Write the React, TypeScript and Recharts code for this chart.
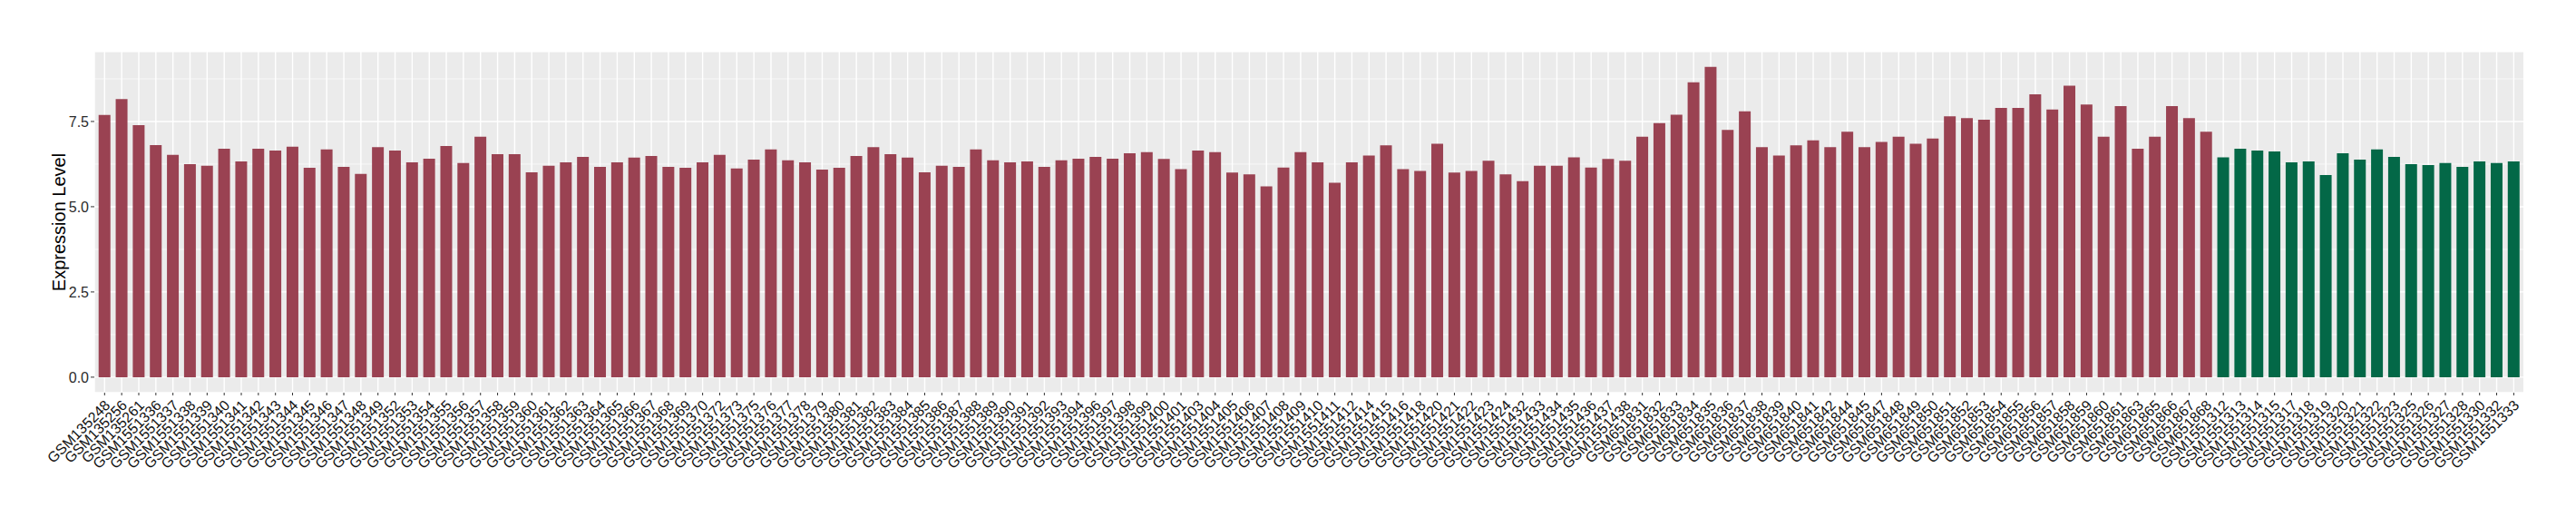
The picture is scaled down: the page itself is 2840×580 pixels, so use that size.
import React from 'react';
import { BarChart, Bar, XAxis, YAxis, CartesianGrid, Cell } from 'recharts';

const tumorSamples = [
  'GSM135248', 'GSM135256', 'GSM135261', 'GSM1551336', 'GSM1551337', 'GSM1551338', 'GSM1551339', 'GSM1551340',
  'GSM1551341', 'GSM1551342', 'GSM1551343', 'GSM1551344', 'GSM1551345', 'GSM1551346', 'GSM1551347', 'GSM1551348',
  'GSM1551349', 'GSM1551352', 'GSM1551353', 'GSM1551354', 'GSM1551355', 'GSM1551356', 'GSM1551357', 'GSM1551358',
  'GSM1551359', 'GSM1551360', 'GSM1551361', 'GSM1551362', 'GSM1551363', 'GSM1551364', 'GSM1551365', 'GSM1551366',
  'GSM1551367', 'GSM1551368', 'GSM1551369', 'GSM1551370', 'GSM1551372', 'GSM1551373', 'GSM1551375', 'GSM1551376',
  'GSM1551377', 'GSM1551378', 'GSM1551379', 'GSM1551380', 'GSM1551381', 'GSM1551382', 'GSM1551383', 'GSM1551384',
  'GSM1551385', 'GSM1551386', 'GSM1551387', 'GSM1551388', 'GSM1551389', 'GSM1551390', 'GSM1551391', 'GSM1551392',
  'GSM1551393', 'GSM1551394', 'GSM1551396', 'GSM1551397', 'GSM1551398', 'GSM1551399', 'GSM1551400', 'GSM1551401',
  'GSM1551403', 'GSM1551404', 'GSM1551405', 'GSM1551406', 'GSM1551407', 'GSM1551408', 'GSM1551409', 'GSM1551410',
  'GSM1551411', 'GSM1551412', 'GSM1551414', 'GSM1551415', 'GSM1551416', 'GSM1551418', 'GSM1551420', 'GSM1551421',
  'GSM1551422', 'GSM1551423', 'GSM1551424', 'GSM1551432', 'GSM1551433', 'GSM1551434', 'GSM1551435', 'GSM1551436',
  'GSM1551437', 'GSM1551438', 'GSM651831', 'GSM651832', 'GSM651833', 'GSM651834', 'GSM651835', 'GSM651836',
  'GSM651837', 'GSM651838', 'GSM651839', 'GSM651840', 'GSM651841', 'GSM651842', 'GSM651844', 'GSM651845',
  'GSM651847', 'GSM651848', 'GSM651849', 'GSM651850', 'GSM651851', 'GSM651852', 'GSM651853', 'GSM651854',
  'GSM651855', 'GSM651856', 'GSM651857', 'GSM651858', 'GSM651859', 'GSM651860', 'GSM651861', 'GSM651863',
  'GSM651865', 'GSM651866', 'GSM651867', 'GSM651868',
];

const tumorValues = [
  7.69, 8.16, 7.39, 6.81, 6.52, 6.25, 6.2, 6.7,
  6.33, 6.7, 6.65, 6.76, 6.14, 6.68, 6.17, 5.96,
  6.75, 6.65, 6.3, 6.41, 6.78, 6.28, 7.05, 6.54,
  6.54, 6.01, 6.2, 6.3, 6.46, 6.17, 6.3, 6.44,
  6.49, 6.17, 6.14, 6.3, 6.52, 6.12, 6.38, 6.68,
  6.36, 6.3, 6.09, 6.14, 6.49, 6.75, 6.54, 6.44,
  6.01, 6.2, 6.17, 6.68, 6.36, 6.3, 6.33, 6.17,
  6.36, 6.41, 6.46, 6.41, 6.57, 6.6, 6.4, 6.1,
  6.65, 6.6, 6.0, 5.95, 5.6, 6.15, 6.6, 6.3,
  5.7, 6.3, 6.5, 6.8, 6.1, 6.05, 6.85, 6.0,
  6.05, 6.35, 5.95, 5.75, 6.2, 6.2, 6.45, 6.15,
  6.4, 6.35, 7.05, 7.45, 7.7, 8.65, 9.1, 7.25,
  7.8, 6.75, 6.5, 6.8, 6.95, 6.75, 7.2, 6.75,
  6.9, 7.05, 6.85, 7.0, 7.65, 7.6, 7.55, 7.9,
  7.9, 8.3, 7.85, 8.55, 8.0, 7.05, 7.95, 6.7,
  7.05, 7.95, 7.6, 7.2,
];

const normalSamples = [
  'GSM1551312', 'GSM1551313', 'GSM1551314', 'GSM1551315', 'GSM1551317', 'GSM1551318', 'GSM1551319', 'GSM1551320',
  'GSM1551321', 'GSM1551322', 'GSM1551323', 'GSM1551325', 'GSM1551326', 'GSM1551327', 'GSM1551328', 'GSM1551330',
  'GSM1551332', 'GSM1551333',
];

const normalValues = [
  6.45, 6.7, 6.65, 6.62, 6.3, 6.33, 5.93, 6.57,
  6.38, 6.68, 6.46, 6.25, 6.22, 6.28, 6.17, 6.33,
  6.28, 6.33,
];

const yTicks = [0, 2.5, 5, 7.5];
const yMinorTicks = [1.25, 3.75, 6.25, 8.75];
const yDomain: [number, number] = [-0.455, 9.555];

const TUMOR_COLOR = '#9A4252';
const NORMAL_COLOR = '#036847';
const FONT = '"Liberation Sans", Arial, Helvetica, sans-serif';

const data = [
  ...tumorSamples.map((s, i) => ({ sample: s, value: tumorValues[i], group: 'tumor' })),
  ...normalSamples.map((s, i) => ({ sample: s, value: normalValues[i], group: 'normal' })),
];

const XTick = (props: any) => {
  const { x, y, payload } = props;
  return (
    <g transform={`translate(${x + 7},${y + 9})`}>
      <text
        x={0}
        y={0}
        textAnchor="end"
        transform="rotate(-45)"
        fontSize={16}
        fill="#111111"
        fontFamily={FONT}
      >
        {payload.value}
      </text>
    </g>
  );
};

const minorGen = (args: any) => {
  const yAxis = args && args.yAxis;
  if (yAxis && typeof yAxis.scale === 'function') {
    return yMinorTicks.map((v) => yAxis.scale(v));
  }
  const offset = args && args.offset;
  if (offset) {
    const span = yDomain[1] - yDomain[0];
    return yMinorTicks.map((v) => offset.top + ((yDomain[1] - v) / span) * offset.height);
  }
  return [];
};

export default function App() {
  return (
    <div style={{ position: 'relative', width: 2824, height: 564 }}>
      <BarChart
        width={2824}
        height={564}
        data={data}
        margin={{ top: 48.7, right: 49.3, bottom: 39, left: 36 }}
        barCategoryGap="15%"
      >
        <CartesianGrid
          fill="#EBEBEB"
          stroke="#FFFFFF"
          strokeWidth={0.7}
          vertical={false}
          horizontalCoordinatesGenerator={minorGen}
        />
        <CartesianGrid stroke="#FFFFFF" strokeWidth={1.4} />
        <XAxis
          dataKey="sample"
          interval={0}
          tick={<XTick />}
          tickSize={3}
          tickMargin={3}
          tickLine={{ stroke: '#333333', strokeWidth: 1 }}
          axisLine={false}
          height={100}
          padding={{ left: 1.9, right: 1.9 }}
        />
        <YAxis
          domain={yDomain}
          ticks={yTicks}
          allowDataOverflow
          width={60}
          tickSize={4}
          tickMargin={2}
          tickLine={{ stroke: '#333333', strokeWidth: 1 }}
          axisLine={false}
          tickFormatter={(v: number) => v.toFixed(1)}
          tick={{ fontSize: 16, fill: '#2B2B2B', fontFamily: FONT }}
        />
        <Bar dataKey="value" isAnimationActive={false}>
          {data.map((d, i) => (
            <Cell key={i} fill={d.group === 'normal' ? NORMAL_COLOR : TUMOR_COLOR} />
          ))}
        </Bar>
      </BarChart>
      <div
        style={{
          position: 'absolute',
          left: 57 - 150,
          top: 237 - 12,
          width: 300,
          height: 24,
          lineHeight: '24px',
          textAlign: 'center',
          transform: 'rotate(-90deg)',
          fontFamily: FONT,
          fontSize: 20,
          color: '#000000',
        }}
      >
        Expression Level
      </div>
    </div>
  );
}
